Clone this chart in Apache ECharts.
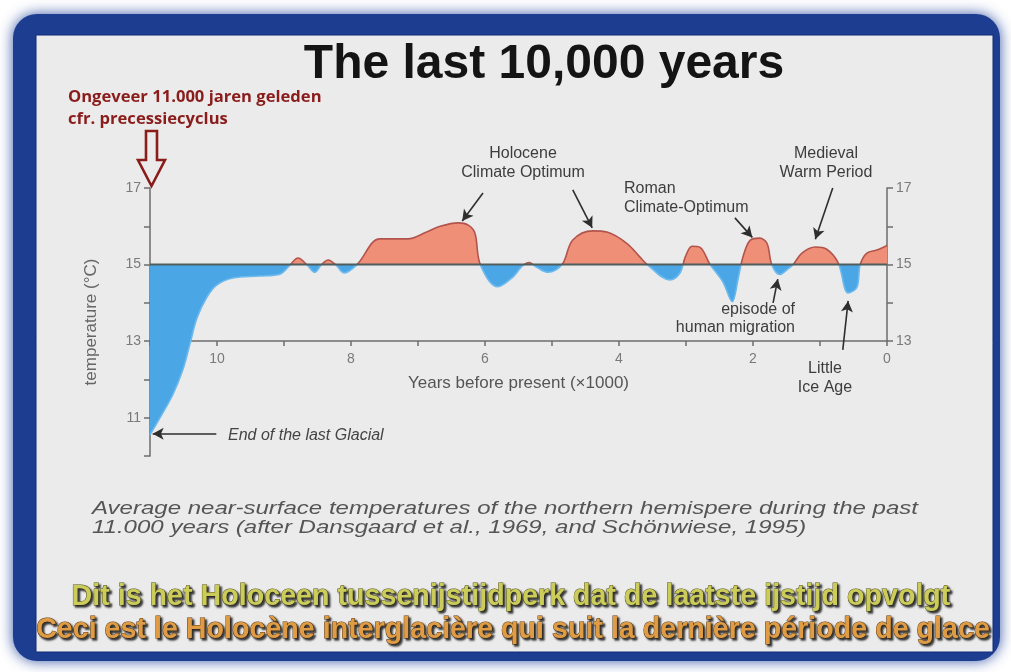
<!DOCTYPE html>
<html>
<head>
<meta charset="utf-8">
<title>The last 10,000 years</title>
<script src="https://cdn.jsdelivr.net/npm/echarts@6.0.0/dist/echarts.min.js"></script>
<style>
  html, body { margin: 0; padding: 0; background: #ffffff; }
  #chart { width: 1011px; height: 672px; }
</style>
</head>
<body>
<div id="chart"></div>
<script>
// Years before present (x1000) and northern-hemisphere temperature (°C)
const yearsBP = [
  11.0, 10.85, 10.66, 10.51, 10.40, 10.30, 10.15, 10.0, 9.76, 9.36,
  9.06, 8.93, 8.79, 8.66, 8.54, 8.44, 8.34, 8.22, 8.10, 7.91,
  7.57, 7.15, 6.87, 6.67, 6.40, 6.25, 6.15, 6.07, 5.81, 5.58,
  5.45, 5.34, 5.22, 5.06, 4.85, 4.69, 4.39, 4.18, 3.88, 3.69,
  3.58, 3.24, 3.09, 3.01, 2.91, 2.79, 2.64, 2.45, 2.31, 2.22,
  2.15, 2.04, 1.90, 1.79, 1.72, 1.60, 1.49, 1.40, 1.27, 1.07,
  0.90, 0.73, 0.58, 0.45, 0.40, 0.30, 0.15, 0.0
];
const temperature = [
  10.55, 11.0, 11.6, 12.25, 12.95, 13.6, 14.15, 14.47, 14.65, 14.7,
  14.75, 14.95, 15.17, 15.0, 14.8, 15.0, 15.12, 14.98, 14.78, 15.0,
  15.67, 15.67, 15.85, 16.0, 16.09, 16.03, 15.82, 15.0, 14.42, 14.68,
  14.95, 15.05, 14.92, 14.8, 15.0, 15.64, 15.88, 15.85, 15.55, 15.2,
  15.0, 14.6, 14.78, 15.2, 15.48, 15.45, 15.0, 14.55, 14.03, 14.65,
  15.2, 15.64, 15.69, 15.55, 15.0, 14.74, 14.87, 15.0, 15.3, 15.46,
  15.4, 15.05, 14.26, 14.4, 15.0, 15.3, 15.38, 15.5
];
// Reference temperature the anomalies are shaded against
const baseline = 15;

// Axis settings
const xRange = [0, 11];
const yRangeLeft = [10, 17];
const yRangeRight = [13, 17];
const xLabelsShown = [0, 2, 4, 6, 8, 10];
const yLabelsShown = [11, 13, 15, 17];

// Annotation arrows: [fromYear, fromTemp, toYear, toTemp]
const arrows = [
  [6.03, 16.87, 6.34, 16.14],
  [4.69, 16.95, 4.40, 15.96],
  [2.27, 16.22, 2.01, 15.71],
  [0.81, 17.0, 1.07, 15.66],
  [1.70, 14.0, 1.63, 14.62],
  [0.66, 12.77, 0.58, 14.05],
  [10.01, 10.58, 10.96, 10.58]
];

const seriesData = yearsBP.map((y, i) => [y, temperature[i]]);

const axisGrey = '#6d6d6d';
const labelGrey = '#7a7a7a';
const baseFont = 'Liberation Sans, Arial, sans-serif';

const chart = echarts.init(document.getElementById('chart'), null, { renderer: 'canvas' });

chart.setOption({
  animation: false,
  backgroundColor: '#ffffff',
  grid: [
    { left: 150, right: 124, top: 188, height: 268 },
    { left: 150, right: 124, top: 188, height: 153 }
  ],
  xAxis: [
    { gridIndex: 0, type: 'value', inverse: true, min: xRange[0], max: xRange[1], show: false },
    {
      gridIndex: 1, type: 'value', inverse: true, min: xRange[0], max: xRange[1], interval: 1,
      axisLine: { onZero: false, lineStyle: { color: axisGrey, width: 1.5 } },
      axisTick: { length: 5, lineStyle: { color: axisGrey, width: 1.5 } },
      splitLine: { show: false },
      axisLabel: {
        color: labelGrey, fontFamily: baseFont, fontSize: 14, margin: 11,
        formatter: v => xLabelsShown.includes(v) ? String(v) : ''
      },
      name: 'Years before present (\u00d71000)',
      nameLocation: 'middle', nameGap: 34,
      nameTextStyle: { color: '#555', fontFamily: baseFont, fontSize: 17 }
    }
  ],
  yAxis: [
    {
      gridIndex: 0, type: 'value', position: 'left', min: yRangeLeft[0], max: yRangeLeft[1], interval: 1,
      axisLine: { show: true, onZero: false, lineStyle: { color: axisGrey, width: 1.5 } },
      axisTick: { show: true, length: 6, lineStyle: { color: axisGrey, width: 1.5 } },
      splitLine: { show: false },
      axisLabel: {
        color: labelGrey, fontFamily: baseFont, fontSize: 14, margin: 9,
        formatter: v => yLabelsShown.includes(v) ? String(v) : ''
      },
      name: 'temperature (\u00b0C)',
      nameLocation: 'middle', nameGap: 50,
      nameTextStyle: { color: '#666', fontFamily: baseFont, fontSize: 17 }
    },
    {
      gridIndex: 1, type: 'value', position: 'right', min: yRangeRight[0], max: yRangeRight[1], interval: 1,
      axisLine: { show: true, onZero: false, lineStyle: { color: axisGrey, width: 1.5 } },
      axisTick: { show: true, length: 6, lineStyle: { color: axisGrey, width: 1.5 } },
      splitLine: { show: false },
      axisLabel: {
        color: labelGrey, fontFamily: baseFont, fontSize: 14, margin: 9,
        formatter: v => yLabelsShown.includes(v) ? String(v) : ''
      }
    }
  ],
  visualMap: [
    {
      type: 'piecewise', show: false, seriesIndex: 0, dimension: 1,
      pieces: [
        { gt: baseline, lte: 20, color: '#ef8f78' },
        { gte: 5, lte: baseline, color: '#4ba6e6' }
      ]
    },
    {
      type: 'piecewise', show: false, seriesIndex: 1, dimension: 1,
      pieces: [
        { gt: baseline, lte: 20, color: '#b2544c' },
        { gte: 5, lte: baseline, color: '#6cb9ee' }
      ]
    }
  ],
  series: [
    {
      // shaded anomaly area
      type: 'line', xAxisIndex: 0, yAxisIndex: 0, data: seriesData,
      smooth: 0.35, symbol: 'none', silent: true,
      lineStyle: { width: 0 },
      areaStyle: { origin: baseline, opacity: 1 },
      z: 2
    },
    {
      // outline of the curve
      type: 'line', xAxisIndex: 0, yAxisIndex: 0, data: seriesData,
      smooth: 0.35, symbol: 'none', silent: true,
      lineStyle: { width: 1.6 },
      z: 3
    },
    {
      // 15 °C reference line plus annotation arrows
      type: 'line', xAxisIndex: 0, yAxisIndex: 0,
      data: [[xRange[1], baseline], [xRange[0], baseline]],
      symbol: 'none', silent: true,
      lineStyle: { color: '#4f5d5d', width: 2 },
      z: 4,
      markLine: {
        silent: true, symbol: ['none', 'arrow'], symbolSize: [9, 11],
        label: { show: false },
        lineStyle: { color: '#2e2e2e', width: 1.6, type: 'solid' },
        data: arrows.map(a => [{ coord: [a[0], a[1]] }, { coord: [a[2], a[3]] }])
      }
    }
  ],
  graphic: [
    // blue frame and panel
    {
      type: 'rect', z: -10, silent: true,
      shape: { x: 13, y: 14, width: 987, height: 647, r: 24 },
      style: { fill: '#1d3e90', shadowBlur: 14, shadowColor: 'rgba(25,60,150,0.85)' }
    },
    {
      type: 'rect', z: -9, silent: true,
      shape: { x: 36, y: 35, width: 957, height: 617 },
      style: { fill: '#ebebeb', stroke: '#0e2a78', lineWidth: 1 }
    },
    {
      type: 'text', z: 10, silent: true,
      style: {
        text: 'The last 10,000 years', x: 544, y: 65,
        textAlign: 'center', textVerticalAlign: 'middle',
        font: 'bold 48px ' + baseFont, fill: '#141414'
      }
    },
    {
      type: 'text', z: 10, silent: true,
      style: {
        text: 'Ongeveer 11.000 jaren geleden\ncfr. precessiecyclus', x: 68, y: 86,
        lineHeight: 22, font: 'bold 16.6px "Open Sans", sans-serif', fill: '#8a1c1c'
      }
    },
    {
      type: 'polygon', z: 10, silent: true,
      shape: { points: [[146, 131], [157, 131], [157, 160], [165, 160], [151.5, 186], [138, 160], [146, 160]] },
      style: { fill: 'rgba(0,0,0,0)', stroke: '#8a1c1c', lineWidth: 2.6, lineJoin: 'miter' }
    },
    {
      type: 'text', z: 10, silent: true,
      style: {
        text: 'Holocene\nClimate Optimum', x: 523, y: 144, lineHeight: 19,
        textAlign: 'center', font: '16px ' + baseFont, fill: '#3d3d3d'
      }
    },
    {
      type: 'text', z: 10, silent: true,
      style: {
        text: 'Roman\nClimate-Optimum', x: 624, y: 179, lineHeight: 19,
        textAlign: 'left', font: '16px ' + baseFont, fill: '#3d3d3d'
      }
    },
    {
      type: 'text', z: 10, silent: true,
      style: {
        text: 'Medieval\nWarm Period', x: 826, y: 144, lineHeight: 19,
        textAlign: 'center', font: '16px ' + baseFont, fill: '#3d3d3d'
      }
    },
    {
      type: 'text', z: 10, silent: true,
      style: {
        text: 'episode of\nhuman migration', x: 795, y: 301, lineHeight: 18,
        textAlign: 'right', font: '16px ' + baseFont, fill: '#3d3d3d'
      }
    },
    {
      type: 'text', z: 10, silent: true,
      style: {
        text: 'Little\nIce Age', x: 825, y: 359, lineHeight: 19,
        textAlign: 'center', font: '16px ' + baseFont, fill: '#3d3d3d'
      }
    },
    {
      type: 'text', z: 10, silent: true,
      style: {
        text: 'End of the last Glacial', x: 228, y: 436,
        textVerticalAlign: 'middle', font: 'italic 16px ' + baseFont, fill: '#444'
      }
    },
    {
      type: 'text', z: 10, silent: true, x: 92, y: 499, scaleX: 1.335,
      style: {
        text: 'Average near-surface temperatures of the northern hemispere during the past\n11.000 years (after Dansgaard et al., 1969, and Sch\u00f6nwiese, 1995)',
        x: 0, y: 0, lineHeight: 19,
        font: 'italic 18px ' + baseFont, fill: '#555'
      }
    },
    {
      type: 'text', z: 10, silent: true, x: 511, y: 597, scaleX: 0.955,
      style: {
        text: 'Dit is het Holoceen tussenijstijdperk dat de laatste ijstijd opvolgt',
        x: 0, y: 0, textAlign: 'center', textVerticalAlign: 'middle',
        font: 'bold 30px ' + baseFont,
        fill: '#cccc5a',
        stroke: '#55551a', lineWidth: 1,
        textShadowColor: 'rgba(25,25,25,0.9)', textShadowBlur: 2,
        textShadowOffsetX: 2, textShadowOffsetY: 2
      }
    },
    {
      type: 'text', z: 10, silent: true, x: 513, y: 630, scaleX: 0.955,
      style: {
        text: 'Ceci est le Holoc\u00e8ne interglaci\u00e8re qui suit la derni\u00e8re p\u00e9riode de glace',
        x: 0, y: 0, textAlign: 'center', textVerticalAlign: 'middle',
        font: 'bold 30px ' + baseFont,
        fill: '#e09c44',
        stroke: '#5e3a10', lineWidth: 1,
        textShadowColor: 'rgba(25,25,25,0.9)', textShadowBlur: 2,
        textShadowOffsetX: 2, textShadowOffsetY: 2
      }
    }
  ]
});
</script>
</body>
</html>
